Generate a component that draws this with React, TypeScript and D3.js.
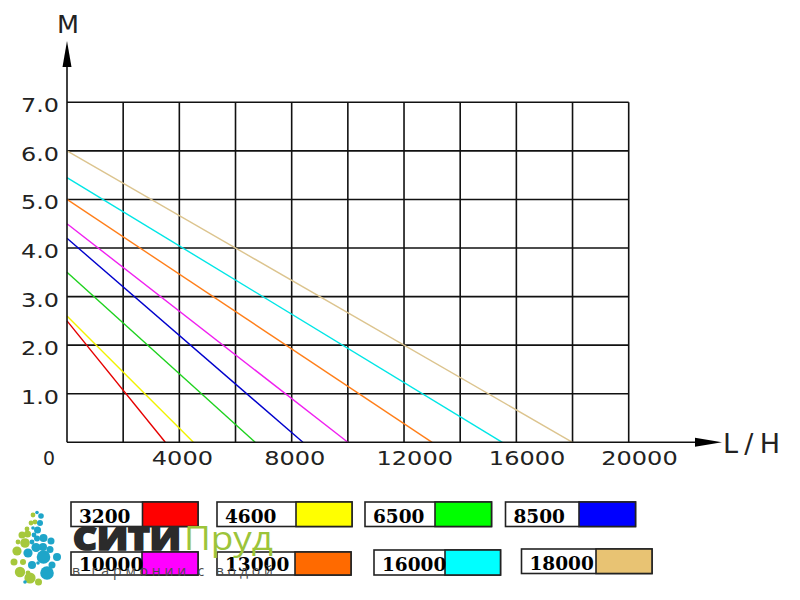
import React from "react";
import * as d3 from "d3";

// ---- data ----
const seriesNames = ["3200", "4600", "6500", "8500", "10000", "13000", "16000", "18000"];
const maxHead = [2.5, 2.6, 3.5, 4.2, 4.5, 5.0, 5.45, 6.0]; // M at Q=0
const maxFlow = [3500, 4500, 6700, 8400, 10000, 13000, 15500, 18000]; // L/H at H=0
const lineColors = ["#e60000", "#f2f200", "#1ed21e", "#0000cc", "#f020f0", "#ff7f1a", "#00e6e6", "#dcc48e"];
const legendColors = ["#ff0000", "#ffff00", "#00ff00", "#0000ff", "#ff00ff", "#ff6a00", "#00ffff", "#e8c373"];
const yTicks = [1, 2, 3, 4, 5, 6, 7];
const yTickLabels = ["1.0", "2.0", "3.0", "4.0", "5.0", "6.0", "7.0"];
const xGrid = [2000, 4000, 6000, 8000, 10000, 12000, 14000, 16000, 18000, 20000];
const xTickValues = [0, 4000, 8000, 12000, 16000, 20000];
const xTickLabels = ["0", "4000", "8000", "12000", "16000", "20000"];

// ---- layout (not data) ----
const legendBoxes = [
  { l: 71, r: 198, d: 142.5, t: 502, b: 526.5 },
  { l: 217, r: 352, d: 296, t: 502, b: 526.5 },
  { l: 365, r: 491.5, d: 435, t: 502, b: 526.5 },
  { l: 505.5, r: 635.5, d: 579, t: 502, b: 526.5 },
  { l: 71, r: 198, d: 142, t: 552, b: 575 },
  { l: 217, r: 351, d: 295, t: 552, b: 575 },
  { l: 374, r: 500.5, d: 445, t: 550, b: 575 },
  { l: 521.5, r: 652, d: 596, t: 549, b: 573.5 },
];

const logoDots: [number, number, number, string][] = [
  [33, 515, 2.4, "L"], [37, 512.5, 1.8, "T"], [41, 516, 2.8, "T"],
  [31, 523, 2.4, "L"], [35, 522, 2.4, "L"], [40, 523, 3, "T"],
  [27, 529, 2.4, "L"], [33, 528, 1.8, "T"], [37.5, 530, 3.5, "T"],
  [22, 535, 3.5, "L"], [27.5, 534, 3.5, "L"], [34, 535, 2.4, "T"],
  [43.5, 538, 4, "T"], [37, 538.5, 3, "T"], [25, 543, 4.8, "L"],
  [18, 542, 2.4, "L"], [32, 542, 2.4, "T"], [51, 541, 3.5, "T"],
  [43, 547, 4, "T"], [36, 547.5, 4.6, "T"], [17, 551, 4.6, "L"],
  [28, 553, 4.6, "T"], [50, 549.5, 3.5, "T"], [43.5, 557, 6.8, "T"],
  [57, 557, 4, "T"], [14, 562, 3.5, "L"], [23, 562, 3, "L"],
  [32, 565, 4, "T"], [38, 563, 1.8, "T"], [52, 565, 3.5, "T"],
  [20, 572, 5.2, "L"], [28, 573, 2.4, "L"], [47, 573, 6.8, "T"],
  [30, 578, 5.6, "L"], [38.5, 582, 3.5, "L"], [25, 582, 1.8, "T"],
];

export default function App() {
  const x = d3.scaleLinear().domain([0, 20000]).range([67, 628.7]);
  const y = d3.scaleLinear().domain([0, 7]).range([442.3, 102.3]);
  const line = d3
    .line<[number, number]>()
    .x((d) => x(d[0]))
    .y((d) => y(d[1]));

  const axisFont = "'DejaVu Sans', sans-serif";
  const gridColor = "#111";

  return (
    <svg
      width={800}
      height={600}
      viewBox="0 0 800 600"
      style={{ position: "absolute", left: 0, top: 0, background: "#fff" }}
    >
      <rect x={0} y={0} width={800} height={600} fill="#fff" />

      {/* grid */}
      {yTicks.map((v) => (
        <line key={"h" + v} x1={x(0)} x2={x(20000)} y1={y(v)} y2={y(v)} stroke={gridColor} strokeWidth={1.6} />
      ))}
      {xGrid.map((v) => (
        <line key={"v" + v} x1={x(v)} x2={x(v)} y1={y(7)} y2={y(0)} stroke={gridColor} strokeWidth={1.6} />
      ))}

      {/* data lines */}
      {seriesNames.map((s, i) => (
        <path
          key={s}
          d={line([
            [0, maxHead[i]],
            [maxFlow[i], 0],
          ]) || ""}
          fill="none"
          stroke={lineColors[i]}
          strokeWidth={1.4}
        />
      ))}

      {/* axes */}
      <line x1={x(0)} x2={x(0)} y1={y(0)} y2={60} stroke={gridColor} strokeWidth={1.6} />
      <polygon points={`${x(0)},41 ${x(0) - 4.5},67 ${x(0) + 4.5},67`} fill="#000" />
      <line x1={x(0)} x2={700} y1={y(0)} y2={y(0)} stroke={gridColor} strokeWidth={1.6} />
      <polygon points={`722,${y(0)} 695,${y(0) - 4.5} 695,${y(0) + 4.5}`} fill="#000" />

      {/* axis titles */}
      <text x={68} y={33} textAnchor="middle" fontFamily={axisFont} fontSize={24} fill="#222" textLength={22} lengthAdjust="spacingAndGlyphs">
        M
      </text>
      <text x={723} y={453} fontFamily={axisFont} fontSize={27} fill="#222" textLength={57} lengthAdjust="spacing">
        L/H
      </text>

      {/* y tick labels */}
      {yTicks.map((v, i) => (
        <text
          key={"yl" + v}
          x={59}
          y={y(v) + 10}
          textAnchor="end"
          fontFamily={axisFont}
          fontSize={19.5}
          fill="#222"
          textLength={38}
          lengthAdjust="spacingAndGlyphs"
        >
          {yTickLabels[i]}
        </text>
      ))}

      {/* x tick labels */}
      {xTickValues.map((v, i) => {
        const lab = xTickLabels[i];
        const single = lab.length === 1;
        return (
          <text
            key={"xl" + v}
            x={single ? 43 : x(v) - 27.5}
            y={465}
            fontFamily={axisFont}
            fontSize={20}
            fill="#222"
            textLength={single ? 12 : lab.length * 15.3}
            lengthAdjust="spacingAndGlyphs"
          >
            {lab}
          </text>
        );
      })}

      {/* legend */}
      {legendBoxes.map((b, i) => (
        <g key={"lg" + i}>
          <rect x={b.l} y={b.t} width={b.r - b.l} height={b.b - b.t} fill="#fff" stroke="#222" strokeWidth={1.6} />
          <rect x={b.d} y={b.t} width={b.r - b.d} height={b.b - b.t} fill={legendColors[i]} stroke="#222" strokeWidth={1.6} />
          <text
            x={b.l + 8}
            y={b.b - 4}
            fontFamily="'DejaVu Serif', serif"
            fontWeight={700}
            fontSize={18.5}
            fill="#000"
          >
            {seriesNames[i]}
          </text>
        </g>
      ))}

      {/* watermark logo */}
      {logoDots.map((d, i) => (
        <circle key={"dot" + i} cx={d[0]} cy={d[1]} r={d[2]} fill={d[3] === "T" ? "#1ea5c9" : "#a6c83c"} />
      ))}
      <text x={73} y={550} fontFamily="'Open Sans', sans-serif" fontWeight={800} fontSize={31} fill="#2b2b2b" stroke="#2b2b2b" strokeWidth={1.6} textLength={108} lengthAdjust="spacingAndGlyphs">
        СИТИ
      </text>
      <text x={184} y={550} fontFamily="'Open Sans', sans-serif" fontWeight={400} fontSize={32} fill="#9cc43a" textLength={89} lengthAdjust="spacingAndGlyphs">
        Пруд
      </text>
      <text x={72} y={576} fontFamily="'Open Sans', sans-serif" fontSize={14} fill="#4a4a4a" textLength={201} lengthAdjust="spacing">
        в гармонии с водой
      </text>
    </svg>
  );
}
